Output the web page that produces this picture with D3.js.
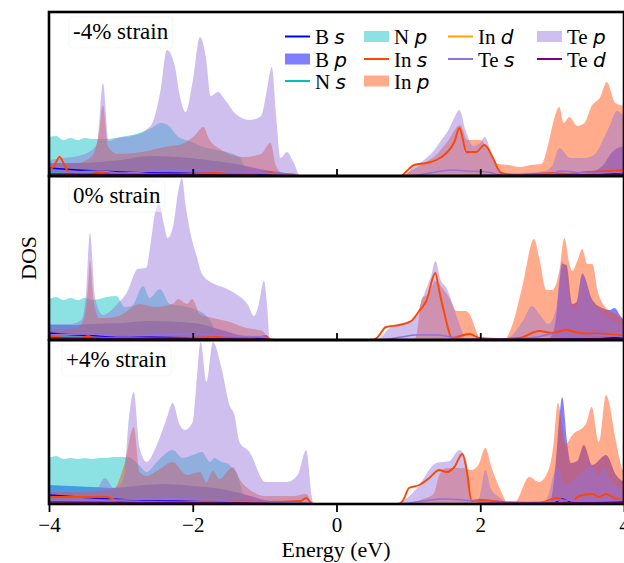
<!DOCTYPE html>
<html>
<head>
<meta charset="utf-8">
<script src="https://cdn.jsdelivr.net/npm/d3@7"></script>
<style>
  body { margin: 0; background: #fff; }
  text { font-family: "Liberation Serif", "Times New Roman", serif; }
</style>
</head>
<body>
<svg width="624" height="563"></svg>
<script>
// ---- data: [energy (eV), DOS], one array per orbital & strain ----
const energyTicks = [-4, -2, 0, 2, 4];
const strainLabels = ["-4% strain", "0% strain", "+4% strain"];

// -4% strain
const bS_m4 = [[-4,0.8],[-3.6,0.6],[-3,0.4],[-2,0.25],[-1,0.1],[-0.5,0],[3.4,0],[3.8,0.2],[4,0.3]];
const bP_m4 = [[-4,1.3],[-3.6,1.3],[-3.3,1.4],[-3,1.6],[-2.6,2.0],[-2.2,1.9],[-1.8,1.6],[-1.4,1.2],[-1,0.6],[-0.6,0.2],[-0.45,0],[3.4,0],[3.5,0.3],[3.7,1.0],[3.85,2.5],[4,3.0]];
const nS_m4 = [[-4,0.3],[-3,0.2],[-2,0.15],[-1,0.05],[-0.5,0],[3.6,0],[4,0.2]];
const nP_m4 = [[-4,3.9],[-3.9,4.0],[-3.8,3.6],[-3.7,3.8],[-3.6,3.6],[-3.5,3.8],[-3.4,3.7],[-3.2,3.7],[-3,3.9],[-2.85,4.1],[-2.7,4.4],[-2.55,4.9],[-2.45,5.3],[-2.35,5.1],[-2.2,3.9],[-2.05,3.5],[-1.85,2.9],[-1.6,2.5],[-1.35,1.9],[-1.3,1.2],[-1.22,0],[3.8,0],[3.9,0.1],[4,0.3]];
const inS_m4 = [[-4,0.5],[-3.93,1.0],[-3.85,1.9],[-3.78,1.0],[-3.7,0.2],[-3.5,0.1],[-3.25,0.4],[-3.15,0.1],[-2.5,0.1],[-2,0.2],[-1.7,0.3],[-1.2,0.2],[-0.92,0.4],[-0.85,0.1],[-0.5,0],[0.9,0],[0.95,0.3],[1.08,1.1],[1.25,1.3],[1.39,1.6],[1.53,2.3],[1.64,3.4],[1.71,4.8],[1.81,2.4],[1.94,2.4],[2.06,3.1],[2.17,1.9],[2.29,0.3],[2.5,0.1],[2.8,0.2],[3,0.3],[3.2,0.2],[3.5,0.4],[3.8,0.5],[4,0.6]];
const inP_m4 = [[-4,1.2],[-3.6,1.3],[-3.4,2.0],[-3.3,4.5],[-3.25,7.1],[-3.18,3.0],[-3.05,2.2],[-2.7,2.4],[-2.4,2.9],[-2.15,3.2],[-1.98,4.0],[-1.85,4.9],[-1.78,3.8],[-1.6,2.6],[-1.3,1.9],[-1.05,2.2],[-0.92,3.3],[-0.84,1.0],[-0.75,0.3],[-0.6,0.3],[-0.5,0],[0.9,0],[1,0.4],[1.2,1.2],[1.4,2.2],[1.55,3.5],[1.72,5.1],[1.82,3.6],[2,3.6],[2.15,2.0],[2.25,1.2],[2.4,1.1],[2.55,0.9],[2.7,1.1],[2.85,1.2],[2.95,3.3],[3.02,5.5],[3.1,6.9],[3.16,5.3],[3.24,5.9],[3.35,5.0],[3.45,5.3],[3.55,7.0],[3.67,7.9],[3.76,9.4],[3.88,7.3],[4,7.0]];
const inD_m4 = [[-4,0.1],[-3,0.08],[-2,0.06],[-0.5,0],[1,0],[2,0.05],[4,0.08]];
const teS_m4 = [[-4,0.6],[-3.7,0.4],[-3.3,0.5],[-3,0.3],[-2.5,0.5],[-2,0.6],[-1.5,0.4],[-1,0.3],[-0.5,0],[1,0],[1.3,0.3],[1.6,0.6],[1.8,0.5],[2.1,0.4],[2.3,0.1],[3,0.2],[3.1,0.5],[3.5,0.3],[4,0.4]];
const teP_m4 = [[-4,1.6],[-3.8,1.8],[-3.6,2.0],[-3.42,2.5],[-3.33,3.3],[-3.25,9.3],[-3.17,3.5],[-3.05,3.8],[-2.85,4.0],[-2.65,4.6],[-2.55,5.5],[-2.45,8.5],[-2.36,12.6],[-2.25,11.0],[-2.18,8.0],[-2.1,6.4],[-2,9.5],[-1.9,13.9],[-1.82,12.0],[-1.75,8.0],[-1.65,8.4],[-1.55,7.6],[-1.4,6.2],[-1.2,5.6],[-1.05,6.0],[-0.97,8.5],[-0.9,10.9],[-0.84,6.0],[-0.78,1.8],[-0.69,2.4],[-0.6,1.4],[-0.5,0],[0.95,0],[1.05,0.8],[1.2,1.5],[1.35,2.5],[1.45,3.5],[1.55,4.5],[1.65,6.0],[1.71,6.6],[1.8,4.5],[1.9,3.0],[2,3.3],[2.06,3.9],[2.15,2.5],[2.25,0.8],[2.35,0.3],[2.6,0.3],[2.9,0.5],[3,1.0],[3.1,2.8],[3.25,1.8],[3.45,1.8],[3.6,2.2],[3.7,3.5],[3.8,5.0],[3.9,6.5],[4,6.0]];
const teD_m4 = [[-4,0.2],[-3,0.15],[-2,0.12],[-1,0.08],[-0.5,0],[1,0],[2,0.05],[4,0.15]];

// 0% strain
const bS_0 = [[-4,0.7],[-3.6,0.5],[-3,0.35],[-2,0.2],[-1,0.1],[-0.9,0],[3.3,0],[3.8,0.2],[4,0.3]];
const bP_0 = [[-4,1.5],[-3.7,1.5],[-3.4,1.6],[-3,1.7],[-2.6,1.9],[-2.2,1.8],[-1.9,1.6],[-1.6,1.0],[-1.3,0.4],[-1,0.1],[-0.9,0],[2.9,0],[3,0.5],[3.05,2.0],[3.1,5.6],[3.14,7.6],[3.2,7.5],[3.28,3.6],[3.34,3.8],[3.42,6.6],[3.56,4.0],[3.7,3.2],[3.8,3.0],[3.87,3.2],[3.95,2.4],[4,2.0]];
const nS_0 = [[-4,0.3],[-3,0.2],[-2,0.15],[-1.6,0],[3.6,0],[4,0.15]];
const nP_0 = [[-4,4.1],[-3.9,4.3],[-3.8,4.0],[-3.7,4.2],[-3.6,4.0],[-3.5,4.2],[-3.4,4.0],[-3.3,4.1],[-3.2,4.3],[-3.06,4.4],[-2.95,3.3],[-2.85,3.4],[-2.69,5.4],[-2.6,4.2],[-2.46,5.1],[-2.32,3.6],[-2.14,3.4],[-1.95,3.0],[-1.81,2.4],[-1.72,1.4],[-1.66,0],[3.7,0],[4,0.1]];
const inS_0 = [[-4,0.5],[-3.9,0.3],[-3.6,0.1],[-3.45,0.4],[-3.35,0.1],[-3,0.1],[-2.5,0.1],[-2,0.2],[-1.7,0.3],[-1.3,0.2],[-1.05,0.3],[-0.98,0.4],[-0.93,0.1],[-0.85,0],[0.5,0],[0.56,0.2],[0.69,1.3],[0.88,1.5],[1.04,1.9],[1.15,2.9],[1.25,3.9],[1.375,6.7],[1.43,4.9],[1.5,2.7],[1.61,0.2],[1.72,0.4],[1.85,0.6],[1.99,0.2],[2.26,0.1],[2.54,0.2],[2.82,0.9],[3.0,0.7],[3.19,1.0],[3.375,0.7],[3.75,0.6],[4,0.4]];
const inP_0 = [[-4,1.0],[-3.6,1.2],[-3.5,2.5],[-3.45,6.0],[-3.43,7.9],[-3.38,4.0],[-3.3,2.2],[-3.2,2.2],[-3.0,2.5],[-2.74,3.6],[-2.53,3.3],[-2.28,3.6],[-2.2,4.1],[-2.08,3.6],[-2.01,4.1],[-1.9,2.6],[-1.72,2.2],[-1.53,1.9],[-1.25,1.2],[-1.03,0.9],[-0.93,0],[1.05,0],[1.1,0.2],[1.19,4.2],[1.28,4.6],[1.375,5.9],[1.45,5.4],[1.57,4.2],[1.67,2.9],[1.8,2.9],[1.85,2.6],[1.95,0.8],[2.0,0],[2.33,0],[2.45,1.6],[2.58,5.2],[2.75,10.1],[2.82,8.2],[2.92,5.0],[3.0,5.0],[3.1,6.9],[3.17,10.2],[3.24,7.6],[3.28,6.9],[3.35,7.9],[3.42,9.1],[3.49,7.6],[3.56,7.6],[3.63,5.0],[3.75,3.2],[3.89,2.6],[4,2.0]];
const inD_0 = [[-4,0.1],[-3,0.08],[-2,0.06],[-0.9,0],[1,0],[2,0.05],[4,0.08]];
const teS_0 = [[-4,0.5],[-3.5,0.6],[-3,0.4],[-2.5,0.5],[-2,0.6],[-1.5,0.4],[-1,0.3],[-0.9,0],[0.6,0],[0.9,0.3],[1.1,0.5],[1.4,0.5],[1.6,0.3],[1.8,0.1],[2.4,0.1],[2.8,0.3],[3,0.6],[3.3,0.4],[3.6,0.5],[4,0.3]];
const teP_0 = [[-4,1.6],[-3.7,1.6],[-3.55,2.0],[-3.49,4.2],[-3.43,10.7],[-3.36,4.2],[-3.25,2.5],[-3.05,3.6],[-2.9,5.0],[-2.82,6.5],[-2.77,7.1],[-2.65,7.2],[-2.58,10.0],[-2.53,12.5],[-2.47,13.6],[-2.4,11.5],[-2.35,10.2],[-2.27,11.5],[-2.2,15.0],[-2.15,16.2],[-2.1,13.5],[-2.03,10.6],[-1.95,8.5],[-1.87,6.6],[-1.7,5.6],[-1.55,5.2],[-1.4,4.6],[-1.23,3.5],[-1.15,2.4],[-1.08,3.6],[-1.01,5.9],[-0.96,3.0],[-0.93,0],[0.55,0],[0.74,1.2],[1.08,2.2],[1.22,4.6],[1.32,6.5],[1.375,7.9],[1.45,6.0],[1.53,5.2],[1.62,3.5],[1.72,1.4],[1.81,0],[2.33,0],[2.6,2.0],[2.72,3.4],[2.82,2.6],[2.95,1.6],[3.05,3.0],[3.14,7.9],[3.25,4.0],[3.33,3.0],[3.42,6.7],[3.55,4.0],[3.75,2.4],[4,1.5]];
const teD_0 = [[-4,0.2],[-3,0.15],[-2,0.12],[-1,0.08],[-0.9,0],[1,0],[2,0.05],[4,0.15]];

// +4% strain
const bS_p4 = [[-4,0.9],[-3.6,0.7],[-3,0.45],[-2,0.25],[-1,0.1],[-0.4,0],[3.0,0],[3.14,0.5],[3.3,0.1],[4,0.2]];
const bP_p4 = [[-4,1.9],[-3.7,1.8],[-3.4,1.7],[-3.1,1.6],[-2.8,1.8],[-2.4,2.0],[-2,1.8],[-1.6,1.5],[-1.3,1.0],[-1,0.4],[-0.7,0.1],[-0.4,0],[2.95,0],[3.0,1.0],[3.06,5.0],[3.1,8.6],[3.14,10.7],[3.21,6.0],[3.26,4.1],[3.35,4.3],[3.44,5.9],[3.56,3.9],[3.75,4.9],[3.89,2.9],[4,2.2]];
const nS_p4 = [[-4,0.35],[-3,0.25],[-2,0.15],[-1.2,0],[3.6,0],[4,0.15]];
const nP_p4 = [[-4,4.6],[-3.9,4.8],[-3.8,4.5],[-3.7,4.6],[-3.6,4.5],[-3.5,4.6],[-3.4,4.5],[-3.3,4.6],[-3.2,4.6],[-3.1,4.7],[-3,4.7],[-2.9,4.7],[-2.75,3.9],[-2.64,3.2],[-2.5,4.2],[-2.28,5.4],[-2.14,4.6],[-2,4.9],[-1.875,5.2],[-1.76,4.2],[-1.7,4.6],[-1.6,4.2],[-1.5,4.0],[-1.44,3.5],[-1.38,3.0],[-1.32,1.5],[-1.25,0],[3.7,0],[4,0.1]];
const inS_p4 = [[-4,0.7],[-3.2,0.7],[-3.05,0.3],[-2.9,0.1],[-2.5,0.1],[-2,0.2],[-1.5,0.3],[-1,0.2],[-0.5,0.3],[-0.42,0.6],[-0.35,0.1],[-0.3,0],[0.85,0],[0.92,0.3],[1.01,1.6],[1.15,1.9],[1.29,2.6],[1.43,3.4],[1.53,3.2],[1.64,3.7],[1.75,5.0],[1.82,3.0],[1.875,0.3],[1.99,0.4],[2.31,0.2],[2.82,0.1],[3.06,0.6],[3.24,0.1],[3.375,0.8],[3.56,1.0],[3.65,0.7],[3.75,1.0],[3.89,0.5],[4,0.4]];
const inP_p4 = [[-4,1.2],[-3.5,1.2],[-3.1,1.5],[-2.95,4.0],[-2.82,7.7],[-2.74,3.2],[-2.64,2.8],[-2.5,3.3],[-2.28,4.2],[-2.08,2.9],[-1.9,3.2],[-1.81,2.2],[-1.72,3.3],[-1.63,2.5],[-1.44,3.7],[-1.35,2.5],[-1.16,1.2],[-1,0.8],[-0.6,0.8],[-0.42,1.0],[-0.35,0.2],[-0.3,0],[1.1,0],[1.15,0.3],[1.35,1.0],[1.43,2.9],[1.53,3.6],[1.75,3.6],[1.88,3.4],[1.98,4.0],[2.07,5.6],[2.16,3.6],[2.25,1.9],[2.32,0.8],[2.38,0],[2.5,0.3],[2.68,2.7],[2.82,2.2],[2.96,3.6],[3.02,6.0],[3.08,10.1],[3.19,6.0],[3.28,6.9],[3.47,8.0],[3.55,9.7],[3.65,6.2],[3.75,10.9],[3.89,6.2],[3.97,3.6],[4,3.2]];
const inD_p4 = [[-4,0.1],[-3,0.08],[-2,0.06],[-0.4,0],[1,0],[2,0.05],[4,0.08]];
const teS_p4 = [[-4,0.3],[-3,0.4],[-2,0.5],[-1.5,0.3],[-1,0.2],[-0.4,0.1],[-0.3,0],[0.9,0],[1.2,0.3],[1.5,0.5],[1.75,0.4],[1.9,0.3],[2.3,0.1],[2.9,0.2],[3.1,0.4],[3.5,0.3],[4,0.4]];
const teP_p4 = [[-4,1.2],[-3.6,1.2],[-3.35,1.4],[-3.22,2.6],[-3.1,1.6],[-3.0,2.0],[-2.95,3.0],[-2.9,7.6],[-2.82,11.2],[-2.74,5.6],[-2.64,4.2],[-2.5,5.9],[-2.36,8.6],[-2.28,10.1],[-2.18,7.9],[-2.11,7.4],[-2.0,8.2],[-1.95,11.9],[-1.89,16.2],[-1.81,12.2],[-1.72,16.2],[-1.6,13.6],[-1.49,9.9],[-1.42,8.9],[-1.35,6.2],[-1.21,5.2],[-0.99,2.2],[-0.69,2.2],[-0.54,2.9],[-0.42,5.4],[-0.35,1.0],[-0.32,0],[0.8,0],[0.875,0.1],[1.11,1.5],[1.39,4.1],[1.57,4.3],[1.71,5.4],[1.81,4.3],[1.85,0.6],[1.88,0],[1.95,0],[2.0,1.0],[2.07,3.4],[2.15,1.5],[2.3,0.5],[2.38,0],[2.8,0],[2.92,0.4],[3.07,3.7],[3.19,1.9],[3.375,2.9],[3.56,3.9],[3.65,2.9],[3.72,3.7],[3.83,2.2],[4,1.5]];
const teD_p4 = [[-4,0.2],[-3,0.15],[-2,0.12],[-1,0.08],[-0.4,0],[1,0],[2,0.05],[4,0.15]];

// series: draw order fills first, then lines
const fillSeries = ["bP", "nP", "inP", "teP"];
const lineSeries = ["bS", "nS", "inS", "inD", "teS", "teD"];
const styles = {
  bS:  {el: "B",  orb: "s", color: "blue",          kind: "line"},
  bP:  {el: "B",  orb: "p", color: "blue",          kind: "fill", alpha: 0.5},
  nS:  {el: "N",  orb: "s", color: "#00bfbf",       kind: "line"},
  nP:  {el: "N",  orb: "p", color: "#00bfbf",       kind: "fill", alpha: 0.45},
  inS: {el: "In", orb: "s", color: "orangered",     kind: "line"},
  inP: {el: "In", orb: "p", color: "orangered",     kind: "fill", alpha: 0.45},
  inD: {el: "In", orb: "d", color: "orange",        kind: "line"},
  teS: {el: "Te", orb: "s", color: "mediumpurple",  kind: "line"},
  teP: {el: "Te", orb: "p", color: "mediumpurple",  kind: "fill", alpha: 0.45},
  teD: {el: "Te", orb: "d", color: "purple",        kind: "line"}
};
const legendColumns = [["bS", "bP", "nS"], ["nP", "inS", "inP"], ["inD", "teS"], ["teP", "teD"]];

const panels = [
  {label: strainLabels[0], data: {bS: bS_m4, bP: bP_m4, nS: nS_m4, nP: nP_m4, inS: inS_m4, inP: inP_m4, inD: inD_m4, teS: teS_m4, teP: teP_m4, teD: teD_m4}},
  {label: strainLabels[1], data: {bS: bS_0, bP: bP_0, nS: nS_0, nP: nP_0, inS: inS_0, inP: inP_0, inD: inD_0, teS: teS_0, teP: teP_0, teD: teD_0}},
  {label: strainLabels[2], data: {bS: bS_p4, bP: bP_p4, nS: nS_p4, nP: nP_p4, inS: inS_p4, inP: inP_p4, inD: inD_p4, teS: teS_p4, teP: teP_p4, teD: teD_p4}}
];

// ---- layout ----
var svg = d3.select("svg");
const plotLeft = 49, plotRight = 624, plotTop = 12, plotBottom = 504;
const panelH = (plotBottom - plotTop) / panels.length;

var x = d3.scaleLinear().domain([-4, 4]).range([plotLeft, plotRight]);

panels.forEach(function(p, i) {
  var y0 = plotTop + i * panelH, y1 = y0 + panelH;
  var y = d3.scaleLinear().domain([0, 16.4]).range([y1, y0]);
  var g = svg.append("g").attr("class", "panel");

  g.append("clipPath").attr("id", "clip" + i)
    .append("rect").attr("x", plotLeft).attr("y", y0).attr("width", plotRight - plotLeft).attr("height", panelH);

  var plot = g.append("g").attr("clip-path", "url(#clip" + i + ")");

  var area = d3.area()
    .x(function(d) { return x(d[0]); })
    .y0(y(0))
    .y1(function(d) { return y(d[1]); })
    .curve(d3.curveMonotoneX);
  var line = d3.line()
    .x(function(d) { return x(d[0]); })
    .y(function(d) { return y(d[1]); })
    .curve(d3.curveMonotoneX);

  fillSeries.forEach(function(k) {
    plot.append("path")
      .attr("d", area(p.data[k]))
      .attr("fill", styles[k].color)
      .attr("fill-opacity", styles[k].alpha)
      .attr("stroke", "none");
  });
  lineSeries.forEach(function(k) {
    plot.append("path")
      .attr("d", line(p.data[k]))
      .attr("fill", "none")
      .attr("stroke", styles[k].color)
      .attr("stroke-width", k === "inS" ? 1.9 : 1.5);
  });

  // x axis: ticks inside for upper panels, labelled outside for the last
  var last = i === panels.length - 1;
  var axis = d3.axisBottom(x).tickValues(energyTicks)
    .tickSizeOuter(0)
    .tickSizeInner(last ? 8 : -7)
    .tickPadding(5)
    .tickFormat(last ? d3.format("") : "");
  var ax = g.append("g").attr("transform", "translate(0," + y1 + ")").call(axis);
  ax.select(".domain").remove();
  ax.selectAll("line").attr("stroke", "#000").attr("stroke-width", 1.8);
  ax.selectAll("text").attr("fill", "#000")
    .style("font-family", "'Liberation Serif', serif").style("font-size", "21px");

  // strain label with a faint box
  var box = g.append("rect");
  var lab = g.append("text")
    .attr("x", i === 2 ? 66 : 73)
    .attr("y", y0 + 27)
    .style("font-size", "23px")
    .text(p.label);
  var bb = lab.node().getBBox();
  box.attr("x", bb.x - 4).attr("y", bb.y - 2)
    .attr("width", bb.width + 8).attr("height", bb.height + 6)
    .attr("rx", 3)
    .attr("fill", "#fff").attr("fill-opacity", 0.5)
    .attr("stroke", "#ddd").attr("stroke-opacity", 0.25);

  g.append("rect")
    .attr("x", plotLeft).attr("y", y0).attr("width", plotRight - plotLeft).attr("height", panelH)
    .attr("fill", "none").attr("stroke", "#000").attr("stroke-width", 2.6);
});

// ---- legend (in top panel) ----
var legend = svg.append("g");
const colX = [285, 364, 448, 537];
const rowY = [44, 66.5, 88.5];
legendColumns.forEach(function(col, ci) {
  col.forEach(function(k, ri) {
    var s = styles[k];
    var cy = rowY[ri] - 7.5;
    if (s.kind === "line") {
      legend.append("line")
        .attr("x1", colX[ci]).attr("x2", colX[ci] + 25)
        .attr("y1", cy).attr("y2", cy)
        .attr("stroke", s.color).attr("stroke-width", 2);
    } else {
      legend.append("rect")
        .attr("x", colX[ci]).attr("y", cy - 5.5)
        .attr("width", 25).attr("height", 11)
        .attr("fill", s.color).attr("fill-opacity", s.alpha);
    }
    var t = legend.append("text")
      .attr("x", colX[ci] + 30).attr("y", rowY[ri])
      .style("font-size", "21px");
    t.append("tspan").text(s.el + " ");
    t.append("tspan")
      .style("font-family", "'DejaVu Sans', sans-serif")
      .style("font-style", "italic")
      .style("font-size", "20px")
      .text(s.orb);
  });
});

// ---- axis titles ----
svg.append("text")
  .attr("x", (plotLeft + plotRight) / 2 - 0.5).attr("y", 557)
  .attr("text-anchor", "middle")
  .style("font-size", "22px")
  .text("Energy (eV)");

svg.append("text")
  .attr("transform", "translate(36," + ((plotTop + plotBottom) / 2) + ") rotate(-90)")
  .attr("text-anchor", "middle")
  .style("font-size", "22px")
  .text("DOS");
</script>
</body>
</html>
